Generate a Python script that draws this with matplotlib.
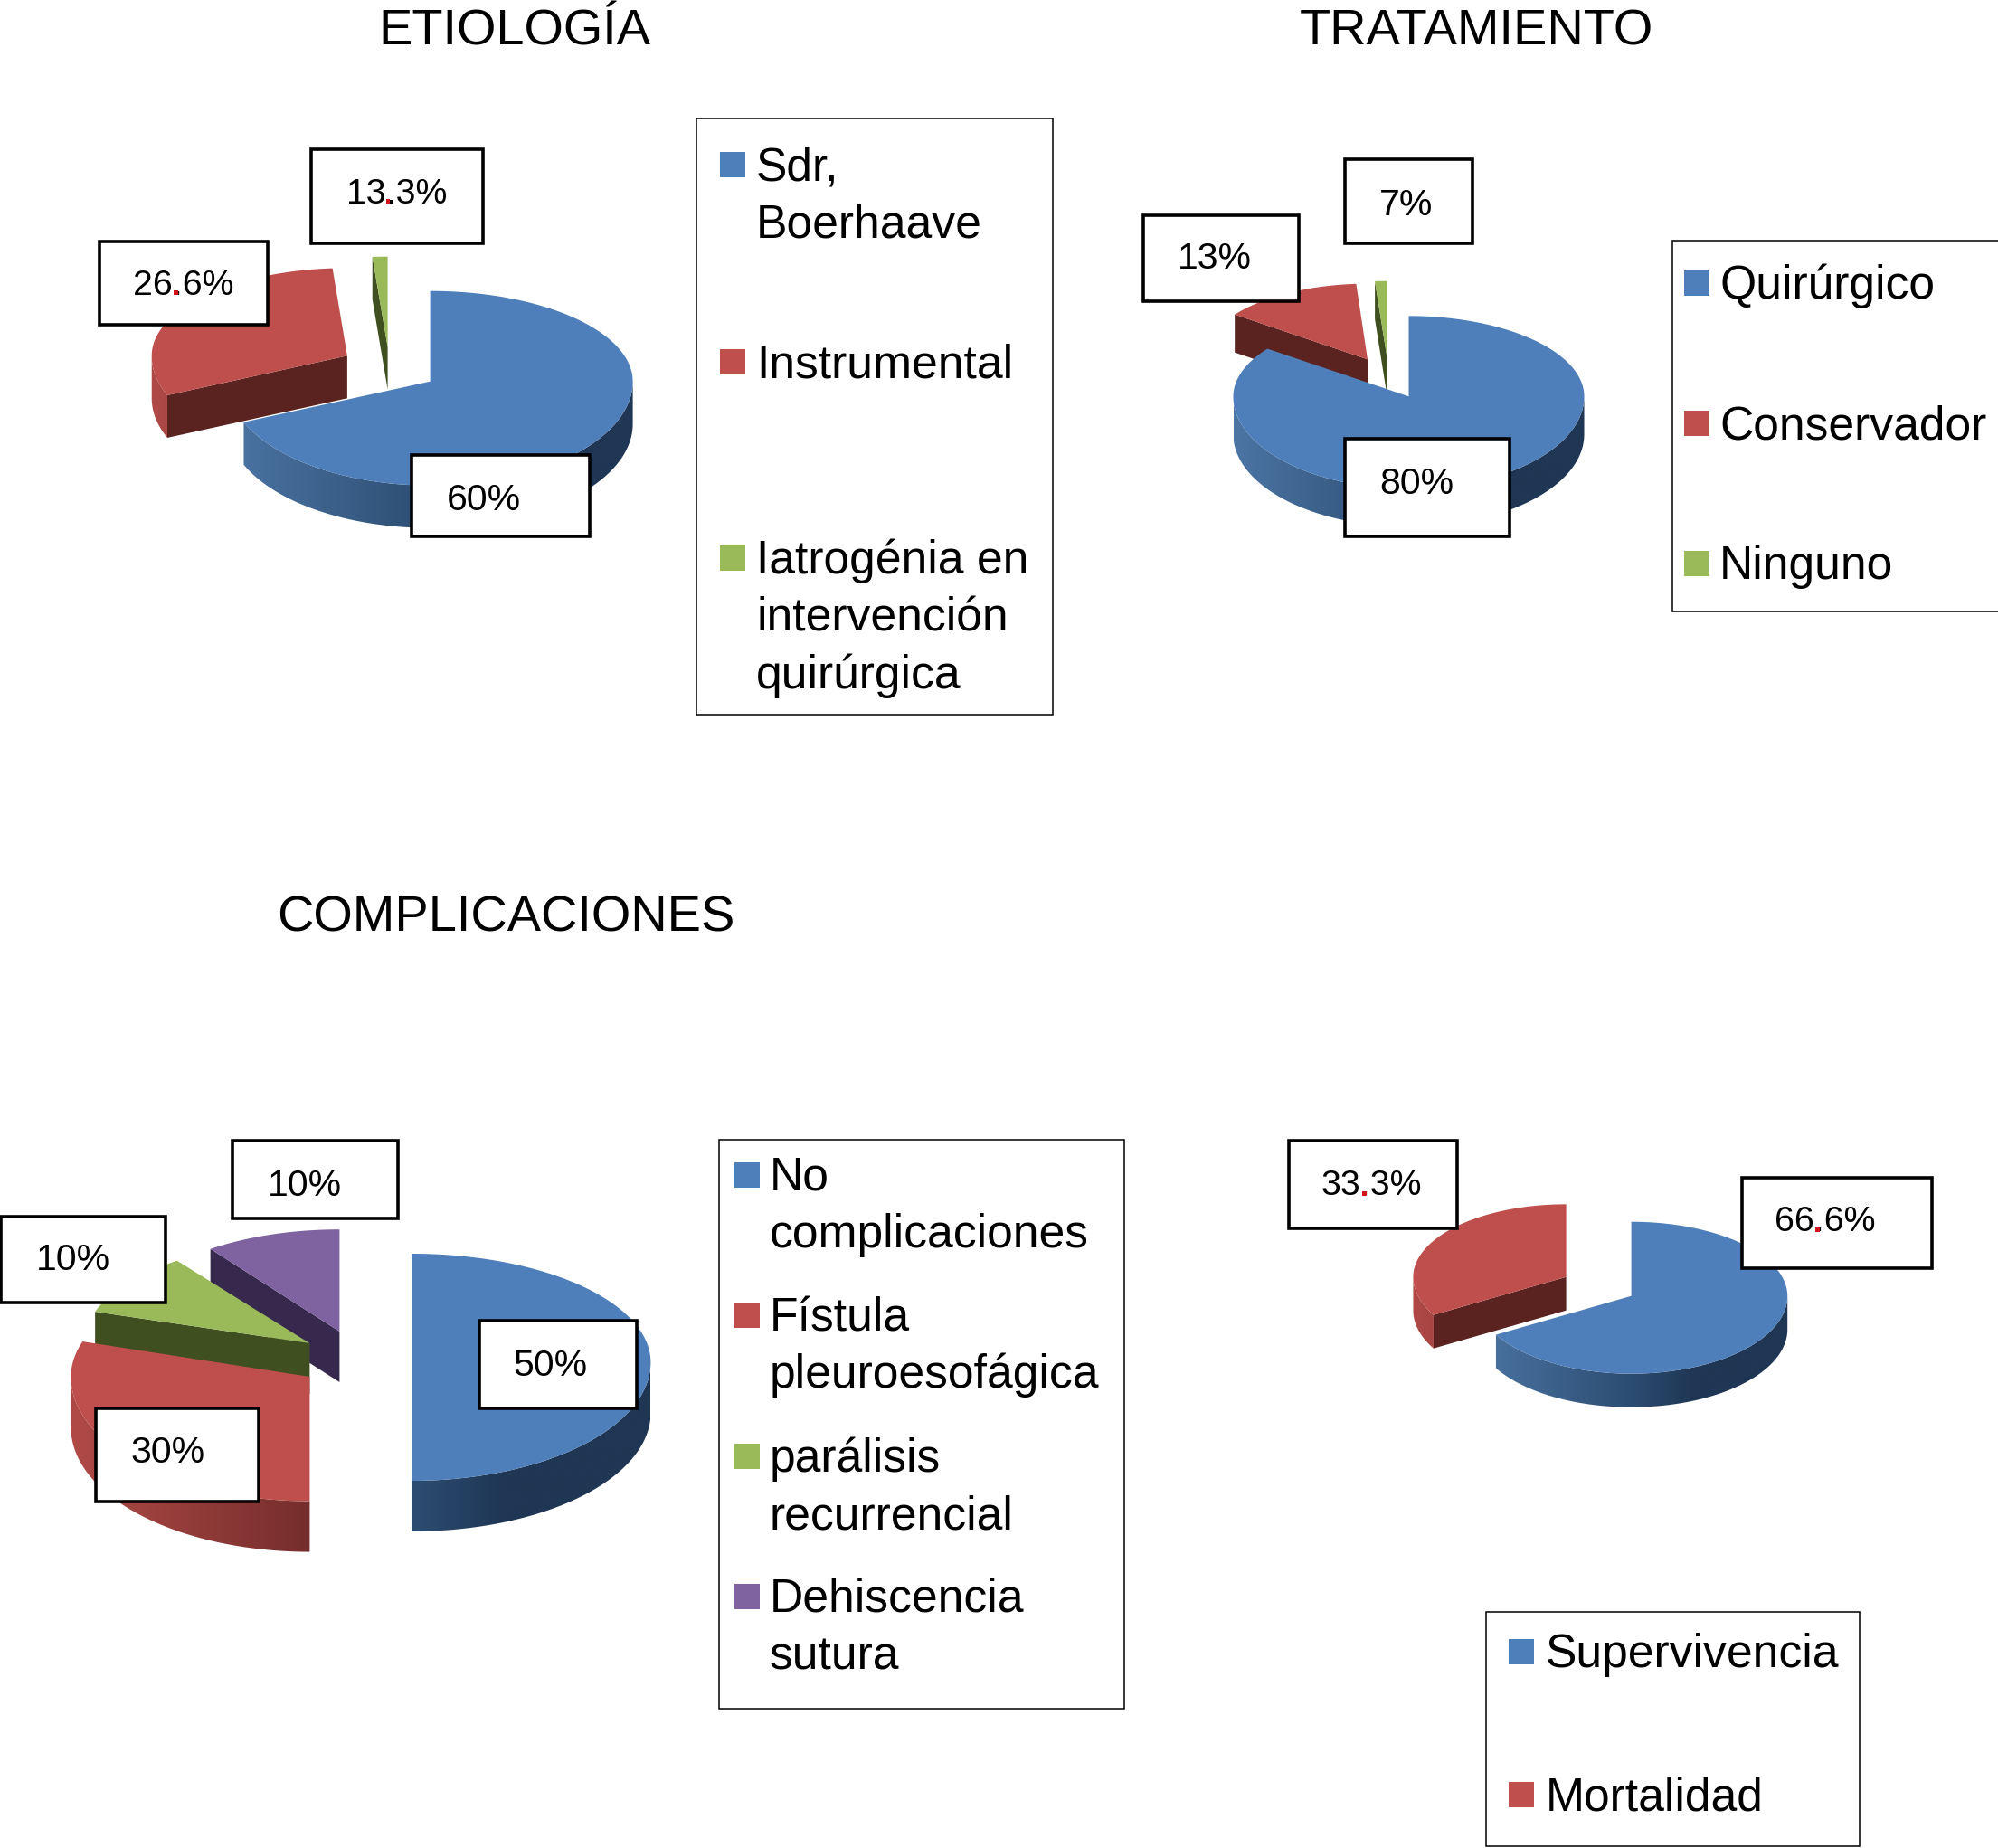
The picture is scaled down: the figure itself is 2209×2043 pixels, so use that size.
import numpy as np
from matplotlib import pyplot as plt
from matplotlib.colors import LinearSegmentedColormap
from matplotlib.font_manager import FontProperties
from matplotlib.patches import Polygon, Rectangle
from matplotlib.textpath import TextPath

plt.rcParams['font.family'] = ['Liberation Sans', 'DejaVu Sans']

# shares are what the slices measure on the picture, labels are what the boxes say
etiologia_names = ["Sdr,\nBoerhaave", "Instrumental", "Iatrogénia en\nintervención\nquirúrgica"]
etiologia_shares = [68.6, 30.2, 1.2]
etiologia_labels = ["60%", "26.6%", "13.3%"]

tratamiento_names = ["Quirúrgico", "Conservador", "Ninguno"]
tratamiento_shares = [85.1, 13.8, 1.1]
tratamiento_labels = ["80%", "13%", "7%"]

complicaciones_names = ["No\ncomplicaciones", "Fístula\npleuroesofágica", "parálisis\nrecurrencial", "Dehiscencia\nsutura"]
complicaciones_shares = [50, 30, 10, 10]
complicaciones_labels = ["50%", "30%", "10%", "10%"]

evolucion_names = ["Supervivencia", "Mortalidad"]
evolucion_shares = [66.7, 33.3]
evolucion_labels = ["66.6%", "33.3%"]

# top colour, then side gradient light -> mid -> dark, same order in every chart
colors = ["#4e7fba", "#be4f4c", "#9aba59", "#7f62a0"]
sides = [("#4c75a4", "#2c4d72", "#1f3654"),
         ("#b04a47", "#752e2c", "#5a2320"),
         ("#7c9647", "#55682c", "#404f20"),
         ("#66508a", "#4a3866", "#36294d")]

W, H = 2209, 2043
fig = plt.figure(figsize=(W / 100, H / 100), dpi=100, facecolor="white")
ax = fig.add_axes([0, 0, 1, 1])

z = [1]


def next_z():
  z[0] += 1
  return z[0]


def draw_pie(shares, cx, cy, rx, back, front, depth, offsets):
  angles = 90 - 3.6 * np.concatenate([[0], np.cumsum(shares)])

  # back to front: last slice first
  for i in range(len(shares) - 1, -1, -1):
    hi, lo = angles[i], angles[i + 1]
    ox, oy, sx, sy = offsets[i]
    light, mid, dark = sides[i]

    def project(theta):
      t = np.radians(theta)
      s = np.sin(t)
      ry = np.where(s > 0, back, front) * sy
      return cx + ox + rx * sx * np.cos(t), cy + oy - ry * s

    # cut faces turned to the viewer
    for edge, normal in ((hi, hi + 90), (lo, lo - 90)):
      if np.sin(np.radians(normal)) < -1e-6:
        ex, ey = project(edge)
        ax.add_patch(Polygon([(cx + ox, cy + oy), (ex, ey), (ex, ey + depth), (cx + ox, cy + oy + depth)],
                             closed=True, fc=dark, ec="none", zorder=next_z()))

    # outer rim, only the front half of the ellipse shows
    arcs = [(max(lo, 180), min(hi, 360)), (max(lo, -180), min(hi, 0))]
    for a, b in arcs:
      if b <= a:
        continue
      th = np.linspace(a, b, 120)
      x, y = project(th)
      pts = np.vstack([np.column_stack([x, y]), np.column_stack([x, y + depth])[::-1]])
      band = Polygon(pts, closed=True, fc="none", ec="none", zorder=next_z())
      ax.add_patch(band)
      cmap = LinearSegmentedColormap.from_list("side", [(0, light), (0.5, mid), (0.7, dark), (1, dark)])
      grad = np.linspace(0, 1, 256).reshape(1, -1)
      left = cx + ox - rx
      im = ax.imshow(grad, cmap=cmap, extent=(left, left + 2 * rx, cy + oy + front * sy + depth + 5, cy + oy - 5),
                     aspect="auto", vmin=0, vmax=1, zorder=band.get_zorder(), interpolation="bilinear")
      im.set_clip_path(band)

    # top face
    th = np.linspace(lo, hi, 240)
    x, y = project(th)
    pts = np.vstack([[(cx + ox, cy + oy)], np.column_stack([x, y])])
    ax.add_patch(Polygon(pts, closed=True, fc=colors[i], ec="none", zorder=next_z()))


def label_box(text, x0, x1, y0, y1, tx, ty):
  size = 28.3 if "." in text else 29.5
  ax.add_patch(Rectangle((x0, y0), x1 - x0, y1 - y0, fc="white", ec="black", lw=2.6, zorder=500))
  t = ax.text(tx, ty + 3, text, fontsize=size, color="black", ha="center", va="center", zorder=501)
  if "." in text:
    # the decimal point is red in the original, paint over the glyph
    rend = fig.canvas.get_renderer()
    fp = FontProperties(family="Liberation Sans", size=size)
    k = 100 / 72
    box = t.get_window_extent(rend)
    whole = TextPath((0, 0), text, size=size, prop=fp).get_extents()
    upto = TextPath((0, 0), text.split(".")[0] + ".", size=size, prop=fp).get_extents()
    dot = TextPath((0, 0), ".", size=size, prop=fp).get_extents()
    descent = rend.get_text_width_height_descent("lp", fp, False)[2]
    base = H - (box.y0 + descent)
    dx1 = box.x0 + (upto.x1 - whole.x0) * k
    w, h = dot.width * k, dot.height * k
    ax.add_patch(Rectangle((dx1 - w - 0.5, base - h - 0.5), w + 1, h + 1, fc="#d0141a", ec="none", zorder=502))


def legend_box(x0, x1, y0, y1, names, ys, sq_x, tx):
  ax.add_patch(Rectangle((x0, y0), x1 - x0, y1 - y0, fc="white", ec="black", lw=1.1, zorder=500))
  for i, name in enumerate(names):
    ax.add_patch(Rectangle((sq_x, ys[i] - 14), 28, 28, fc=colors[i], ec="none", zorder=501))
    for k, line in enumerate(name.split("\n")):
      ax.text(tx, ys[i] + 3.5 + k * 63.2, line, fontsize=37.2, color="black", ha="left", va="center", zorder=501)


# titles
ax.text(568.5, 35, "ETIOLOGÍA", fontsize=40.2, ha="center", va="center")
ax.text(1632, 35, "TRATAMIENTO", fontsize=40.2, ha="center", va="center")
ax.text(559.5, 1015, "COMPLICACIONES", fontsize=40.2, ha="center", va="center")

# pies
draw_pie(etiologia_shares, 475.6, 421.7, 224, 100, 115, 47,
         [(0, 0, 1, 1), (-91.7, -28.4, 0.965, 0.97), (-47, -38, 1, 1)])
draw_pie(tratamiento_shares, 1557.5, 438.3, 194, 89, 102, 42,
         [(0, 0, 1, 1), (-45.5, -41, 0.94, 0.94), (-24, -43, 1, 0.95)])
draw_pie(complicaciones_shares, 455.4, 1506, 264, 120, 131, 56,
         [(0, 0, 1, 1), (-113, 16, 1, 1.05), (-113, -21, 0.945, 0.94), (-80, -34, 0.92, 0.94)])
draw_pie(evolucion_shares, 1803.6, 1432.7, 172.6, 82, 86, 37,
         [(0, 0, 1, 1), (-72, -21, 0.98, 0.98)])

ax.set_xlim(0, W)
ax.set_ylim(H, 0)
ax.set_axis_off()

# value boxes
label_box(etiologia_labels[2], 344.3, 533.7, 165, 269, 438.6, 211.7)
label_box(etiologia_labels[1], 109.5, 295.5, 267.3, 359.3, 203, 313)
label_box(etiologia_labels[0], 454.6, 652.4, 502.7, 593.3, 535.4, 550)

label_box(tratamiento_labels[2], 1486.6, 1628.4, 176, 268.7, 1555, 224)
label_box(tratamiento_labels[1], 1264, 1435.6, 238.3, 333.3, 1343.3, 283)
label_box(tratamiento_labels[0], 1486.6, 1669, 485, 593.3, 1566.4, 531.7)

label_box(complicaciones_labels[3], 257, 439.8, 1261, 1346.7, 337, 1307.7)
label_box(complicaciones_labels[2], 1, 183, 1345, 1440, 81.4, 1390)
label_box(complicaciones_labels[0], 529.5, 704, 1460, 1557, 608.8, 1506.7)
label_box(complicaciones_labels[1], 106, 286, 1556.7, 1660, 185.5, 1603)

label_box(evolucion_labels[1], 1424.5, 1611, 1261, 1357.7, 1516.6, 1308.3)
label_box(evolucion_labels[0], 1926, 2135.6, 1301.7, 1401.7, 2018, 1348.3)

# legends
legend_box(770, 1164, 131, 790, etiologia_names, [182, 400, 617], 796, 836)
legend_box(1849, 2212, 266, 676, tratamiento_names, [313, 468, 623], 1862, 1901)
legend_box(795, 1243, 1260, 1889, complicaciones_names, [1299, 1454, 1610, 1765], 812, 851)
legend_box(1643, 2056, 1782, 2041, evolucion_names, [1826, 1984], 1668, 1709)

fig.savefig("out.png", dpi=100, facecolor="white")
